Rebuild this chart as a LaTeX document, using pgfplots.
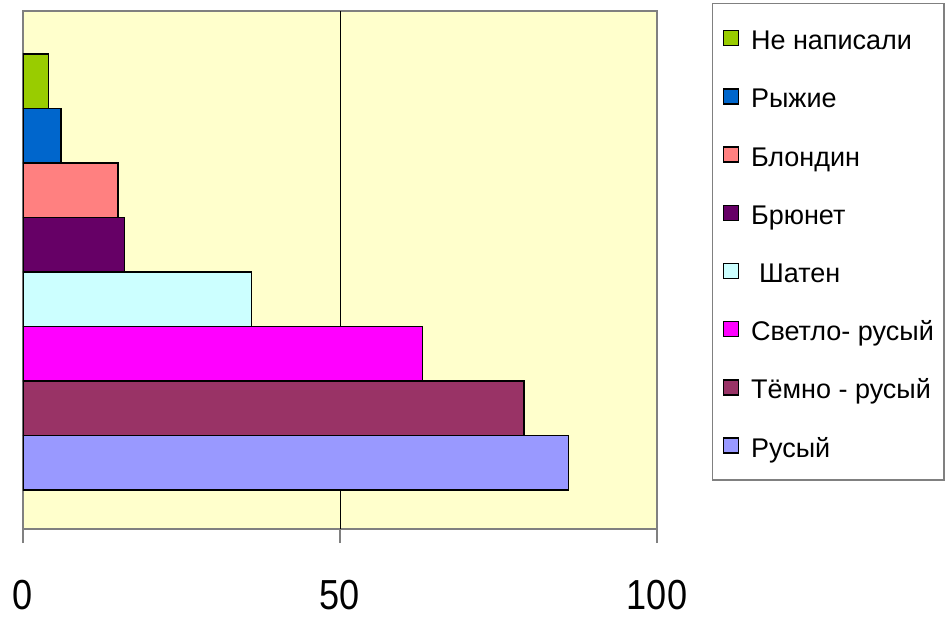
\documentclass[border=0pt]{standalone}
\usepackage{pgfplots}
\pgfplotsset{compat=1.18}
\usepackage{fontspec}
\setmainfont{Liberation Sans}
\newfontfamily\tickfont{Liberation Sans}[FakeStretch=0.86]

\definecolor{bgyellow}{HTML}{FFFFCC}
\definecolor{cnone}{HTML}{99CC00}
\definecolor{cred}{HTML}{0066CC}
\definecolor{cblond}{HTML}{FF8080}
\definecolor{cbrun}{HTML}{660066}
\definecolor{cshat}{HTML}{CCFFFF}
\definecolor{clight}{HTML}{FF00FF}
\definecolor{cdark}{HTML}{993366}
\definecolor{crus}{HTML}{9999FF}
\definecolor{frame}{HTML}{808080}

\begin{document}
\begin{tikzpicture}
\begin{axis}[
    at={(0,0)}, anchor=south west,
    scale only axis,
    width=317pt, height=259pt,
    xbar, bar width=1, bar shift=0pt,
    legend image code/.code={\draw[#1] (0pt,-3.75pt) rectangle (7.5pt,3.75pt);},
    xmin=0, xmax=100,
    ymin=-1.216, ymax=8.29,
    xtick={0,50,100}, ytick=\empty,
    extra x ticks={50}, extra x tick labels={},
    extra x tick style={grid=major, major tick length=0pt},
    grid style={black, line width=0.5pt},
    tick align=outside, xtick pos=bottom,
    major tick length=7pt,
    tick style={draw=frame, line width=0.6pt},
    axis line style={draw=frame, line width=0.8pt},
    axis background/.style={fill=bgyellow},
    /pgf/number format/assume math mode=true,
    xticklabel style={font=\tickfont\fontsize{21}{21}\selectfont, yshift=-15pt},
    every axis plot/.append style={draw=black, line width=0.7pt},
    legend cell align=left,
    legend style={
        at={(1.0868,1.0154)}, anchor=north west,
        draw=frame, line width=0.6pt,
        font=\fontsize{13.5}{13.5}\selectfont,
        inner xsep=5pt, inner ysep=11pt,
        row sep=16.6pt, column sep=6pt,
        nodes={inner sep=0pt, text height=12pt, text depth=0.5pt},
    },
]
% values in per cent, top bar first
\addplot[fill=cnone]  coordinates {(4,7)};
\addplot[fill=cred]   coordinates {(6,6)};
\addplot[fill=cblond] coordinates {(15,5)};
\addplot[fill=cbrun]  coordinates {(16,4)};
\addplot[fill=cshat]  coordinates {(36,3)};
\addplot[fill=clight] coordinates {(63,2)};
\addplot[fill=cdark]  coordinates {(79,1)};
\addplot[fill=crus]   coordinates {(86,0)};
\legend{Не написали, Рыжие, Блондин, Брюнет, \hspace{0.3em}Шатен, Светло- русый, Тёмно - русый, Русый}
\end{axis}
\pgfresetboundingbox
\path[use as bounding box] (-11.5pt,-49pt) rectangle (462pt,264.5pt);
\end{tikzpicture}
\end{document}
